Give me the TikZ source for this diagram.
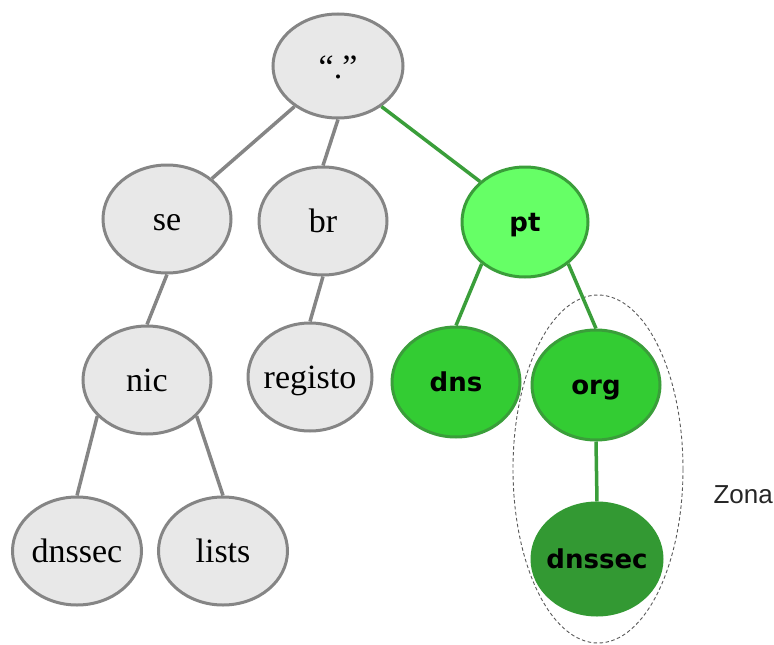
\documentclass[tikz,border=0pt]{standalone}
\usepackage{fontspec}
\setmainfont{Liberation Serif}
\newfontfamily\labelsans{DejaVu Sans}
\newfontfamily\zonesans{Liberation Sans}
\usetikzlibrary{shapes.geometric}

\definecolor{nodegray}{HTML}{E8E8E8}
\definecolor{edgegray}{HTML}{858585}
\definecolor{ptfill}{HTML}{66FF66}
\definecolor{midgreen}{HTML}{33CC33}
\definecolor{darkgreen}{HTML}{339933}
\definecolor{greenline}{HTML}{3A9E3A}

\begin{document}
\begin{tikzpicture}[x=1pt,y=-1pt,
  dnsnode/.style={ellipse, minimum width=128pt, minimum height=108pt,
    inner xsep=-14pt, inner ysep=0pt, line width=3pt},
  graynode/.style={dnsnode, draw=edgegray, fill=nodegray,
    font=\fontsize{34}{40}\selectfont, text height=24pt, text depth=2pt},
  greennode/.style={dnsnode, draw=greenline,
    font=\labelsans\bfseries\fontsize{26}{30}\selectfont, text height=18pt, text depth=0pt},
  grayedge/.style={draw=edgegray, line width=3.5pt},
  greenedge/.style={draw=greenline, line width=3.5pt},
  zoneline/.style={draw=black!65, line width=0.9pt, dash pattern=on 3.5pt off 2.5pt}]
\useasboundingbox (0,0) rectangle (774,645);

% zone boundary around org and its child
\node[ellipse, zoneline, minimum width=170pt, minimum height=348pt, inner sep=0pt] (zone) at (598,469) {};
\node[anchor=west, font=\zonesans\fontsize{26}{30}\selectfont, text=black!85] (zonelabel) at (710,495) {Zona};

% root and top-level domains
\node[graynode, minimum width=130pt, minimum height=104pt, text height=26pt] (root) at (338,66) {“.”};
\node[graynode] (se) at (167,219) {se};
\node[graynode] (br) at (323,221) {br};
\node[greennode, fill=ptfill, minimum width=126pt, minimum height=110pt] (pt) at (525,222) {pt};

% second level
\node[graynode] (nic) at (147,380) {nic};
\node[graynode, minimum width=124pt] (registo) at (310,377) {registo};
\node[greennode, fill=midgreen, minimum height=110pt] (dns) at (456,382) {dns};
\node[greennode, fill=midgreen, minimum height=110pt] (org) at (596,385) {org};

% third level
\node[graynode, minimum width=129pt] (nicdnssec) at (77,551) {dnssec};
\node[graynode, minimum width=129pt] (lists) at (223,551) {lists};
\node[greennode, fill=darkgreen, draw=darkgreen, minimum width=130pt, minimum height=112pt] (orgdnssec) at (597,559) {dnssec};

% connectors
\draw[grayedge] (root.223) -- (se.42);
\draw[grayedge] (root.south) -- (br.north);
\draw[greenedge] (root.317) -- (pt.138);
\draw[grayedge] (se.south) -- (nic.north);
\draw[grayedge] (br.south) -- (registo.north);
\draw[grayedge] (nic.216) -- (nicdnssec.north);
\draw[grayedge] (nic.324) -- (lists.north);
\draw[greenedge] (pt.224) -- (dns.north);
\draw[greenedge] (pt.316) -- (org.north);
\draw[greenedge] (org.south) -- (orgdnssec.north);
\end{tikzpicture}
\end{document}
